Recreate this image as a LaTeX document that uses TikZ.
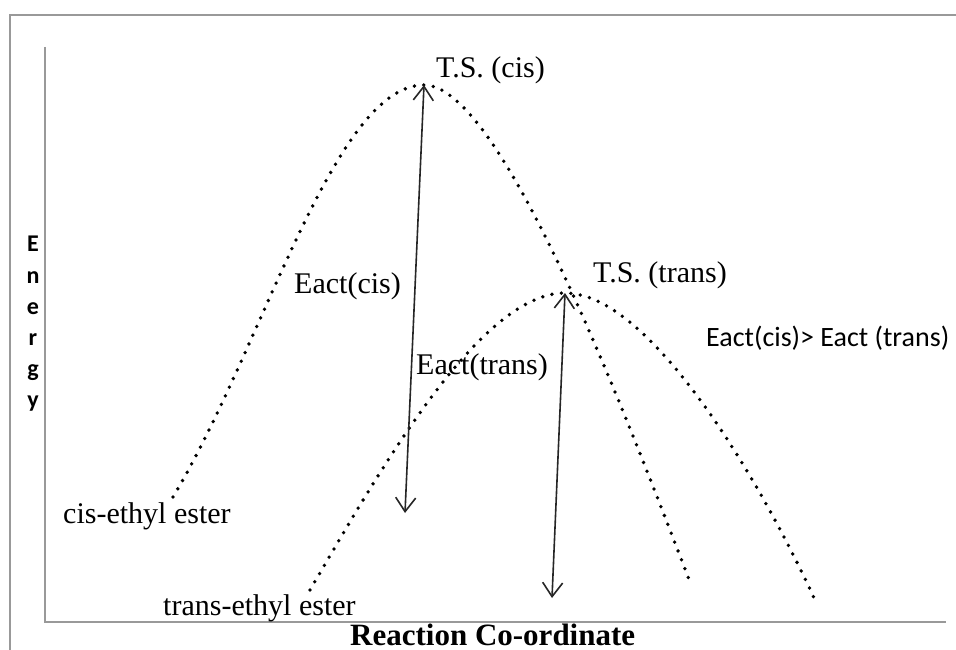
\documentclass[tikz,border=0pt]{standalone}
\usepackage{fontspec}
\setmainfont{Liberation Serif}
\newfontfamily\calib{Carlito}
\usetikzlibrary{arrows.meta}
\begin{document}
\begin{tikzpicture}[x=1pt,y=-1pt,
  frameline/.style={draw=black!40, line width=2pt},
  dotcurve/.style={draw=black, line width=3.8pt, line cap=round, dash pattern=on 0pt off 9.5pt},
  earrow/.style={line width=1.6pt, draw=black!85, {Straight Barb[length=14pt,width=20pt]}-{Straight Barb[length=14pt,width=20pt]}},
  lbl/.style={font=\fontsize{30}{36}\selectfont, inner sep=0pt, anchor=base west},
  ]
\useasboundingbox (0,0) rectangle (956,650);
\fill[white] (0,0) rectangle (956,650);
% outer frame and axes
\coordinate (fTL) at (10,15);
\coordinate (fTR) at (956,15);
\coordinate (fBL) at (10,650);
\coordinate (aTop) at (45,47);
\coordinate (aOrig) at (45,622);
\coordinate (aRight) at (946,622);
\draw[frameline] (fTR) -- (fTL) -- (fBL);
\draw[frameline] (aTop) -- (aOrig) -- (aRight);
% curves
\coordinate (cisL) at (173,497);
\coordinate (cisP) at (424,85);
\coordinate (cisR) at (690,582);
\coordinate (trL) at (310,590);
\coordinate (trP) at (565,293);
\coordinate (trR) at (815,600);
\draw[dotcurve] (cisL) .. controls (263,347) and (334,85) .. (cisP)
  .. controls (500,85) and (620,400) .. (cisR);
\draw[dotcurve] (trL) .. controls (380,470) and (480,293) .. (trP)
  .. controls (650,293) and (760,480) .. (trR);
% activation arrows
\coordinate (cisB) at (405,513);
\coordinate (trB) at (552,598);
\draw[earrow] (cisB) -- (cisP);
\draw[earrow] (trB) -- (trP);
% labels
\node[lbl] (tscis) at (436,78) {T.S. (cis)};
\node[lbl] (tstrans) at (593,282) {T.S. (trans)};
\node[lbl] (eactcis) at (294,293) {Eact(cis)};
\node[lbl] (eacttrans) at (416,374) {Eact(trans)};
\node[lbl, font=\calib\fontsize{28}{34}\selectfont] (cmp) at (706,346) {Eact(cis)> Eact (trans)};
\node[lbl] (cisester) at (63,523) {cis-ethyl ester};
\node[lbl] (trester) at (163,615) {trans-ethyl ester};
\node[lbl, font=\bfseries\fontsize{31}{36}\selectfont] (xlab) at (350,645) {Reaction Co-ordinate};
\node[font=\calib\bfseries\fontsize{24}{31.2}\selectfont, align=center, inner sep=0pt] (ylab) at (33,324) {E\\n\\e\\r\\g\\y};
\end{tikzpicture}
\end{document}
